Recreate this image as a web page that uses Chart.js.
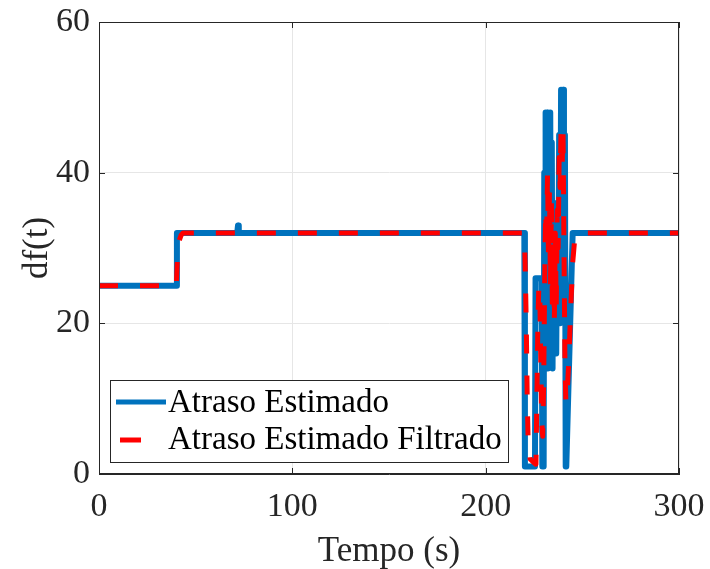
<!DOCTYPE html>
<html>
<head>
<meta charset="utf-8">
<script src="https://cdn.jsdelivr.net/npm/chart.js@4.4.1/dist/chart.umd.min.js"></script>
<style>
html,body{margin:0;padding:0;background:#fff;}
#wrap{width:710px;height:569px;}
</style>
</head>
<body>
<div id="wrap"><canvas id="c" width="710" height="569"></canvas></div>
<script>
// Atraso Estimado (time s, df)
const estT = [0,40,40.3,71.5,71.9,72.3,220,220.3,225.5,225.8,229,229.3,230,230.3,230.7,231,231.4,231.8,232.2,232.6,233,233.4,233.8,234.2,234.6,235,235.5,236,236.5,237,237.5,238,238.5,239,239.5,240,240.5,241,241.4,241.7,245,300];
const estV = [25,25,32,32,33,32,32,1,1,26,26,1,1,40,14,48,18,48,14,46,16,48,20,44,14,36,18,34,16,36,20,45,20,51,24,51,30,45,1,1,32,32];
// Atraso Estimado Filtrado
const filT = [0,40,40.6,41.5,42.5,43.5,220,220.4,221,221.5,222,223,225,226,226.5,227,227.5,228,228.5,229,229.5,230,230.5,231,231.5,232,232.5,233,233.5,234,234.5,235,235.5,236,236.5,237,237.5,238,238.5,239,239.5,240,240.5,241,241.5,242,243,244,245,246,247,300];
const filV = [25,25,29,31,31.7,32,32,28,20,10,4,2,1.5,1.3,10,20,25,24,15,7,5,12,25,35,30,40,28,38,25,36,22,30,20,32,22,35,30,42,38,46,40,46,30,15,9.4,10,15,22,28,31,32,32];
const xTicks = [0,100,200,300];
const yTicks = [0,20,40,60];
const seriesNames = ['Atraso Estimado','Atraso Estimado Filtrado'];

const toPts = (t,v)=>t.map((x,i)=>({x:x,y:v[i]}));
const FONT = "'Liberation Serif','Times New Roman',serif";
const DARK = '#262626';
const BLUE = '#0072BD';
const RED = '#FF0000';

const boxPlugin = {
  id:'boxPlugin',
  afterDatasetsDraw(chart){
    const {ctx, chartArea:a, scales:{x,y}} = chart;
    ctx.save();
    ctx.strokeStyle = DARK; ctx.lineWidth = 1;
    ctx.strokeRect(a.left+0.5, a.top+0.5, a.right-a.left-1, a.bottom-a.top-1);
    ctx.beginPath();
    xTicks.forEach(v=>{const p=Math.round(x.getPixelForValue(v))+0.5;
      ctx.moveTo(p,a.bottom); ctx.lineTo(p,a.bottom-6);
      ctx.moveTo(p,a.top); ctx.lineTo(p,a.top+6);});
    yTicks.forEach(v=>{const p=Math.round(y.getPixelForValue(v))+0.5;
      ctx.moveTo(a.left,p); ctx.lineTo(a.left+6,p);
      ctx.moveTo(a.right,p); ctx.lineTo(a.right-6,p);});
    ctx.stroke();
    // legend
    const lx=110, ly=380, lw=398, lh=82;
    ctx.fillStyle='#fff'; ctx.fillRect(lx,ly,lw,lh);
    ctx.strokeStyle=DARK; ctx.lineWidth=1; ctx.strokeRect(lx+0.5,ly+0.5,lw,lh);
    ctx.lineWidth=5; ctx.lineCap='butt';
    ctx.strokeStyle=BLUE; ctx.beginPath(); ctx.moveTo(116,402); ctx.lineTo(166,402); ctx.stroke();
    ctx.strokeStyle=RED; ctx.beginPath(); ctx.moveTo(120,440); ctx.lineTo(141,440); ctx.stroke();
    ctx.fillStyle='#000'; ctx.font="33px "+FONT; ctx.textBaseline='middle'; ctx.textAlign='left';
    ctx.fillText(seriesNames[0],168,403);
    ctx.fillText(seriesNames[1],168,440);
    ctx.restore();
  }
};

new Chart(document.getElementById('c'),{
  type:'line',
  data:{datasets:[
    {label:seriesNames[1],data:toPts(filT,filV),borderColor:RED,borderWidth:5,borderDash:[19,22],pointRadius:0,fill:false,tension:0,order:0,borderCapStyle:'butt',borderJoinStyle:'round'},
    {label:seriesNames[0],data:toPts(estT,estV),borderColor:BLUE,borderWidth:6,pointRadius:0,fill:false,tension:0,order:1,borderCapStyle:'round',borderJoinStyle:'round'}
  ]},
  options:{
    responsive:false,animation:false,
    layout:{padding:{top:22,right:31,left:0,bottom:0}},
    plugins:{legend:{display:false},tooltip:{enabled:false}},
    scales:{
      x:{type:'linear',min:0,max:300,
        afterBuildTicks(s){s.ticks=xTicks.map(v=>({value:v}));},
        afterFit(s){s.height=95;s.paddingLeft=0;s.paddingRight=0;},
        grid:{color:'#e6e6e6',drawTicks:false},
        border:{color:DARK},
        ticks:{color:DARK,font:{family:FONT,size:34},padding:13,maxRotation:0},
        title:{display:true,text:'Tempo (s)',color:DARK,font:{family:FONT,size:35,lineHeight:1.0},padding:{top:0,bottom:0}}
      },
      y:{type:'linear',min:0,max:60,
        afterBuildTicks(s){s.ticks=yTicks.map(v=>({value:v}));},
        afterFit(s){s.width=99;s.paddingTop=0;s.paddingBottom=0;},
        grid:{color:'#e6e6e6',drawTicks:false},
        border:{color:DARK},
        ticks:{color:DARK,font:{family:FONT,size:34},padding:9},
        title:{display:true,text:'df(t)',color:DARK,font:{family:FONT,size:35,lineHeight:1.0},padding:{top:20,bottom:0}}
      }
    }
  },
  plugins:[boxPlugin]
});
</script>
</body>
</html>
